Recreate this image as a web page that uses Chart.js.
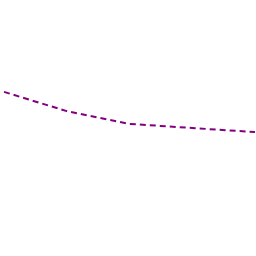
<!DOCTYPE html>
<html>
<head>
<meta charset="utf-8">
<script src="https://cdn.jsdelivr.net/npm/chart.js@4/dist/chart.umd.min.js"></script>
<style>
  html, body { margin: 0; padding: 0; background: #fff; }
  #wrap { width: 256px; height: 256px; }
</style>
</head>
<body>
<div id="wrap"><canvas id="chart"></canvas></div>
<script>
// data
const labels = ["1", "2", "3", "4", "5"];
const values = [64.1, 56.6, 51.6, 50.0, 48.4];

new Chart(document.getElementById('chart'), {
    type: 'line',
    data: {
        labels: labels,
        datasets: [{
            data: values,
            borderColor: '#800080',
            borderWidth: 2,
            borderDash: [6, 4],
            pointRadius: 0,
            tension: 0,
            fill: false
        }]
    },
    options: {
        responsive: true,
        maintainAspectRatio: false,
        animation: false,
        layout: { padding: { left: 4, right: 1, top: 0, bottom: 0 } },
        plugins: { legend: { display: false }, tooltip: { enabled: false } },
        scales: {
            x: { display: false },
            y: { display: false, min: 0, max: 100 }
        }
    }
});
</script>
</body>
</html>
